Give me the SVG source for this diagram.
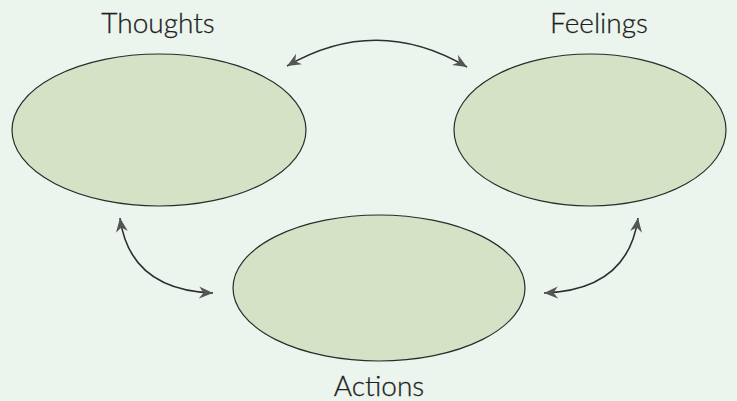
<svg xmlns="http://www.w3.org/2000/svg" width="737" height="401" viewBox="0 0 737 401">
  <style>
    .bubble { fill: #d6e2c6; stroke: #2b2b2b; stroke-width: 1.2; }
    .label { font-family: "Lato", "Liberation Sans", sans-serif; font-size: 28px; font-weight: 300; fill: #1f1f1f; stroke: #1f1f1f; stroke-width: 0.3; text-anchor: middle; }
    .link { fill: none; stroke: #2e2e2e; stroke-width: 1.6; marker-start: url(#head); marker-end: url(#head); }
  </style>
  <defs>
    <marker id="head" viewBox="-14 -7 15 14" refX="0" refY="0" markerWidth="15" markerHeight="14" markerUnits="userSpaceOnUse" orient="auto-start-reverse">
      <path d="M0,0 L-14,-6 L-9.5,0 L-14,6 Z" fill="#555555"/>
    </marker>
  </defs>
  <rect width="737" height="401" fill="#ebf5ee"/>

  <g id="thoughts">
    <ellipse class="bubble" cx="159" cy="130" rx="147" ry="76"/>
    <text class="label" x="158" y="33">Thoughts</text>
  </g>

  <g id="feelings">
    <ellipse class="bubble" cx="590" cy="130" rx="136" ry="76"/>
    <text class="label" x="599" y="33">Feelings</text>
  </g>

  <g id="actions">
    <ellipse class="bubble" cx="379" cy="288" rx="146" ry="73"/>
    <text class="label" x="379" y="396">Actions</text>
  </g>

  <g id="connectors">
    <path class="link" d="M287,66 Q377,14 467,67"/>
    <path class="link" d="M120,218 Q130,290 213,293"/>
    <path class="link" d="M638,218 Q628,290 544,293"/>
  </g>
</svg>
